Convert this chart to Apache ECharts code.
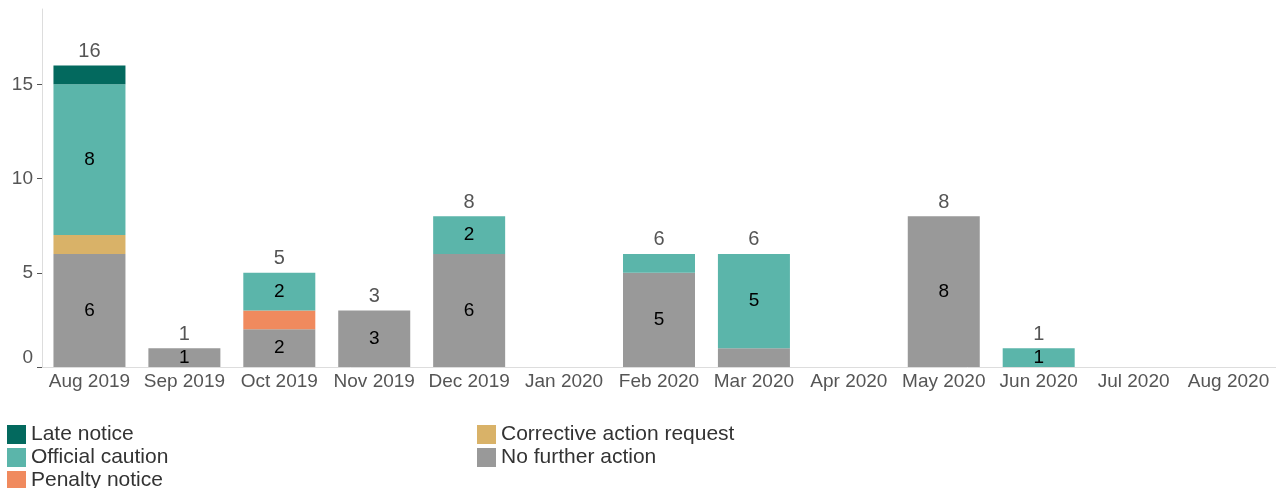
<!DOCTYPE html>
<html><head><meta charset="utf-8">
<script src="https://cdn.jsdelivr.net/npm/echarts@6/dist/echarts.min.js"></script>
<style>html,body{margin:0;padding:0;background:#fff}#c{width:1276px;height:488px}</style>
</head><body><div id="c"></div>
<script>
const months = ['Aug 2019','Sep 2019','Oct 2019','Nov 2019','Dec 2019','Jan 2020','Feb 2020','Mar 2020','Apr 2020','May 2020','Jun 2020','Jul 2020','Aug 2020'];
const noFurtherAction   = [6,1,2,3,6,0,5,1,0,8,0,0,0];
const penaltyNotice     = [0,0,1,0,0,0,0,0,0,0,0,0,0];
const correctiveAction  = [1,0,0,0,0,0,0,0,0,0,0,0,0];
const officialCaution   = [8,0,2,0,2,0,1,5,0,0,1,0,0];
const lateNotice        = [1,0,0,0,0,0,0,0,0,0,0,0,0];
const yTicks = [0,5,10,15];

const seriesDefs = [
  {name:'No further action', data:noFurtherAction, color:'#999999'},
  {name:'Penalty notice', data:penaltyNotice, color:'#F08A5E'},
  {name:'Corrective action request', data:correctiveAction, color:'#D9B268'},
  {name:'Official caution', data:officialCaution, color:'#5BB5AA'},
  {name:'Late notice', data:lateNotice, color:'#03695E'}
];
const totals = months.map((m,i)=>seriesDefs.reduce((s,d)=>s+d.data[i],0));

const font = 'Liberation Sans, Arial, sans-serif';
const series = seriesDefs.map(d=>({
  name:d.name, type:'bar', stack:'all', barWidth:72,
  itemStyle:{color:d.color},
  data:d.data.map(v=>v===0?null:v),
  label:{show:true, position:'inside', color:'#000', fontSize:19, fontFamily:font,
    formatter:p=>{const v=p.value; if(!v) return ''; return (v>=2 || totals[p.dataIndex]===v)? String(v):'';}}
}));
series.push({
  name:'Total', type:'bar', barWidth:72, barGap:'-100%', z:1,
  itemStyle:{color:'rgba(0,0,0,0)'},
  data:totals,
  label:{show:true, position:'top', distance:4, color:'#555', fontSize:20, fontFamily:font,
    formatter:p=>p.value?String(p.value):''},
  silent:true
});

const legendText = {color:'#333', fontSize:21, fontFamily:font};
const chart = echarts.init(document.getElementById('c'));
chart.setOption({
  animation:false,
  textStyle:{fontFamily:font},
  grid:{left:42, right:0, top:9, bottom:121, containLabel:false},
  xAxis:{type:'category', data:months,
    axisLine:{lineStyle:{color:'#dddddd'}}, axisTick:{show:false},
    axisLabel:{color:'#555', fontSize:19, fontFamily:font, margin:5, interval:0}},
  yAxis:{type:'value', min:0, max:19, interval:5,
    axisLine:{show:true, lineStyle:{color:'#dddddd'}},
    axisTick:{show:true, length:5, lineStyle:{color:'#555'}, customValues:yTicks},
    splitLine:{show:false},
    axisLabel:{color:'#555', fontSize:19, fontFamily:font, margin:9,
      customValues:yTicks,
      verticalAlignMinLabel:'bottom',
      formatter:v=>yTicks.includes(v)?String(v):''}},
  legend:[
    {orient:'vertical', left:2, top:419, itemWidth:19, itemHeight:19, itemGap:2, icon:'rect',
      textStyle:legendText, data:['Late notice','Official caution']},
    {orient:'vertical', left:2, top:465, itemWidth:19, itemHeight:19, itemGap:2, icon:'rect',
      textStyle:legendText, data:['Penalty notice']},
    {orient:'vertical', left:472, top:419, itemWidth:19, itemHeight:19, itemGap:2, icon:'rect',
      textStyle:legendText, data:['Corrective action request','No further action']}
  ],
  series:series
});
</script></body></html>
